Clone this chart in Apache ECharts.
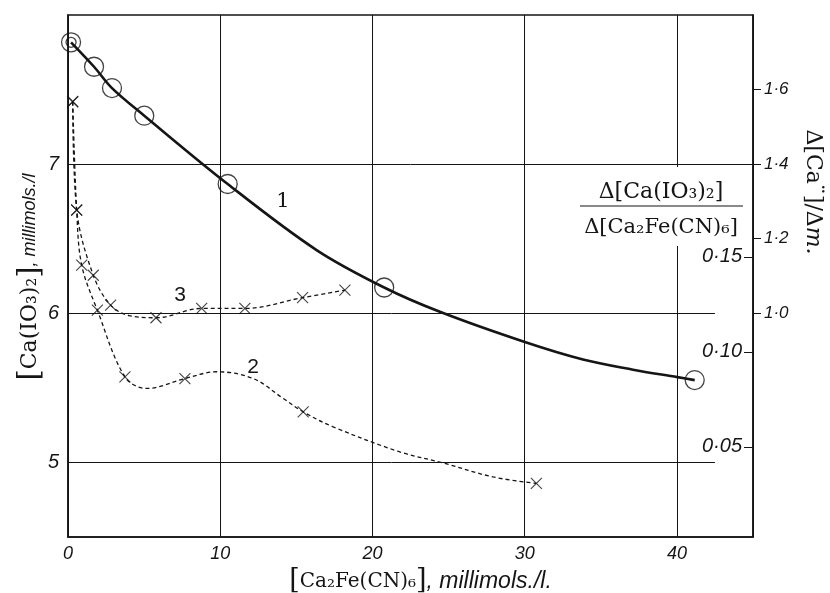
<!DOCTYPE html>
<html><head><meta charset="utf-8">
<script src="https://cdn.jsdelivr.net/npm/echarts@6/dist/echarts.min.js"></script>
<style>html,body{margin:0;padding:0;background:#fff}#c{width:830px;height:593px}</style>
</head><body><div id="c"></div>
<script>
// Tick labels
const xTicks = [0, 10, 20, 30, 40];
const yLeftTicks = [5, 6, 7];
const yOuterTicks = [1.0, 1.2, 1.4, 1.6];
const yInnerTicks = [0.05, 0.10, 0.15];

// Curve 1: [Ca(IO3)2] (circles) - left axis
const c1MarkX = [0.2, 1.71, 2.89, 5.01, 10.49, 20.77, 41.17];
const c1MarkY = [7.817, 7.653, 7.51, 7.325, 6.867, 6.173, 5.552];
// points read along the drawn curve 1
const c1TraceX = [16.33, 24.43, 29.96, 33.83, 37.12, 40.03];
const c1TraceY = [6.424, 6.010, 5.809, 5.690, 5.622, 5.572];

// Curve 2: Δ[Ca(IO3)2]/Δ[Ca2Fe(CN)6] (crosses) - inner right axis
const c2MarkX = [0.31, 0.57, 0.90, 1.93, 3.74, 7.68, 15.45, 30.77];
const c2MarkY = [0.2316, 0.1746, 0.1456, 0.1219, 0.0868, 0.0859, 0.0684, 0.0307];
const c2TraceX = [5.17, 9.76, 12.17, 14.14, 17.42, 21.8, 24.64, 27.93];
const c2TraceY = [0.0807, 0.0895, 0.0859, 0.0754, 0.0605, 0.0473, 0.0415, 0.0341];

// Curve 3: Δ[Ca··]/Δm (crosses) - outer right axis
const c3MarkX = [0.31, 0.57, 1.66, 2.80, 5.78, 8.78, 11.62, 15.41, 18.19];
const c3MarkY = [1.568, 1.277, 1.102, 1.022, 0.988, 1.013, 1.013, 1.042, 1.062];
const c3TraceX = [4.0];
const c3TraceY = [0.994];

const zip = (xs, ys) => xs.map((x, i) => [x, ys[i]]);
const merge = (ax, ay, bx, by) => zip(ax, ay).concat(zip(bx, by)).sort((p, q) => p[0] - q[0]);
const dot = (v, d) => Number(v).toFixed(d).replace('.', '\u00b7');

const ink = '#151515';
const crossPath = 'path://M0,0L10,10M10,0L0,10';
const serif = '"DejaVu Serif", "Liberation Serif", serif';
const sans = '"Liberation Sans", "DejaVu Sans", sans-serif';

const chart = echarts.init(document.getElementById('c'));

const tickFont = {fontFamily: sans, fontStyle: 'italic', color: ink};

chart.setOption({
  animation: false,
  backgroundColor: '#fff',
  grid: {left: 68, right: 77, top: 15, bottom: 56, show: true, borderColor: ink, borderWidth: 1.5, containLabel: false, outerBoundsMode: 'none'},
  xAxis: {
    type: 'value', min: 0, max: 45, interval: 10,
    axisLine: {show: true, lineStyle: {color: ink, width: 1.5}},
    axisTick: {show: false},
    axisLabel: Object.assign({customValues: xTicks, margin: 8, fontSize: 18}, tickFont),
    splitLine: {show: true, lineStyle: {color: ink, width: 1}},
    name: '{b|[}{s|Ca₂Fe(CN)₆}{b|]}{i|, millimols./l.}',
    nameLocation: 'middle', nameGap: 27,
    nameTextStyle: {
      padding: [0, 0, 0, 20],
      rich: {
        b: {fontFamily: serif, fontSize: 27, color: ink},
        s: {fontFamily: serif, fontSize: 20, color: ink},
        i: {fontFamily: sans, fontStyle: 'italic', fontSize: 23, color: ink}
      }
    }
  },
  yAxis: [
    {
      type: 'value', min: 4.5, max: 8, position: 'left',
      axisLine: {show: true, lineStyle: {color: ink, width: 1.5}},
      axisTick: {show: false},
      axisLabel: Object.assign({customValues: yLeftTicks, margin: 9, fontSize: 20}, tickFont),
      splitLine: {show: false}
    },
    {
      type: 'value', min: 0.4, max: 1.8, position: 'right',
      axisLine: {show: true, lineStyle: {color: ink, width: 1.5}},
      axisTick: {show: true, inside: false, length: 8, customValues: yOuterTicks, lineStyle: {color: ink, width: 1}},
      axisLabel: Object.assign({customValues: yOuterTicks, margin: 11, fontSize: 17, formatter: v => dot(v, 1)}, tickFont),
      splitLine: {show: false}
    },
    {
      type: 'value', min: 0.0025, max: 0.2773, position: 'right',
      axisLine: {show: false},
      axisTick: {show: true, inside: true, length: 9, customValues: yInnerTicks, lineStyle: {color: ink, width: 1}},
      axisLabel: Object.assign({inside: true, customValues: yInnerTicks, margin: 11, fontSize: 20, formatter: v => dot(v, 2)}, tickFont),
      splitLine: {show: false}
    }
  ],
  series: [
    {
      type: 'line', yAxisIndex: 0, smooth: 0.35, symbol: 'none',
      data: merge(c1MarkX, c1MarkY, c1TraceX, c1TraceY),
      lineStyle: {color: ink, width: 2.6}, z: 3,
      markLine: {
        silent: true, symbol: ['none', 'none'], label: {show: false},
        lineStyle: {color: ink, width: 1, type: 'solid'},
        data: yLeftTicks.map(v => [{coord: [0, v]}, {coord: [v === 7 ? 45 : 42.5, v]}])
      }
    },
    {
      type: 'scatter', yAxisIndex: 0, data: zip(c1MarkX, c1MarkY),
      symbol: 'circle', symbolSize: 19,
      itemStyle: {color: 'rgba(255,255,255,0)', borderColor: ink, borderWidth: 1.3}, z: 4
    },
    {
      type: 'scatter', yAxisIndex: 0, data: [[c1MarkX[0], c1MarkY[0]]],
      symbol: 'circle', symbolSize: 10,
      itemStyle: {color: 'rgba(255,255,255,0)', borderColor: ink, borderWidth: 1.3}, z: 4
    },
    {
      type: 'line', yAxisIndex: 2, smooth: 0.35, symbol: 'none',
      data: merge(c2MarkX, c2MarkY, c2TraceX, c2TraceY),
      lineStyle: {color: ink, width: 1.3, type: [4, 3]}, z: 3
    },
    {
      type: 'scatter', yAxisIndex: 2, data: zip(c2MarkX, c2MarkY),
      symbol: crossPath, symbolSize: 11,
      itemStyle: {color: 'none', borderColor: ink, borderWidth: 1.1}, z: 4
    },
    {
      type: 'line', yAxisIndex: 1, smooth: 0.35, symbol: 'none',
      data: merge(c3MarkX, c3MarkY, c3TraceX, c3TraceY),
      lineStyle: {color: ink, width: 1.3, type: [4, 3]}, z: 3
    },
    {
      type: 'scatter', yAxisIndex: 1, data: zip(c3MarkX, c3MarkY),
      symbol: crossPath, symbolSize: 11,
      itemStyle: {color: 'none', borderColor: ink, borderWidth: 1.1}, z: 4
    }
  ],
  graphic: [
    {type: 'text', x: 30, y: 277, z: 100, rotation: Math.PI / 2, style: {
      text: '{b|[}{s|Ca(IO₃)₂}{b|]}{i|, millimols./l}', align: 'center', verticalAlign: 'middle',
      rich: {
        b: {fontFamily: serif, fontSize: 29, fill: ink},
        s: {fontFamily: serif, fontSize: 22, fill: ink},
        i: {fontFamily: sans, fontStyle: 'italic', fontSize: 18, fill: ink}
      }
    }},
    {type: 'text', x: 283, y: 202, z: 100, style: {text: '1', fontFamily: serif, fontSize: 21, fill: ink, align: 'center', verticalAlign: 'middle'}},
    {type: 'text', x: 253, y: 367, z: 100, style: {text: '2', fontFamily: sans, fontSize: 21, fill: ink, align: 'center', verticalAlign: 'middle'}},
    {type: 'text', x: 180, y: 295, z: 100, style: {text: '3', fontFamily: sans, fontSize: 21, fill: ink, align: 'center', verticalAlign: 'middle'}},
    {type: 'rect', z: 90, shape: {x: 577, y: 167, width: 170, height: 79}, style: {fill: '#fff'}},
    {type: 'text', x: 661, y: 192, z: 100, style: {text: 'Δ[Ca(IO₃)₂]', fontFamily: serif, fontSize: 22, fill: ink, align: 'center', verticalAlign: 'middle'}},
    {type: 'line', z: 100, shape: {x1: 580, y1: 206, x2: 743, y2: 206}, style: {stroke: ink, lineWidth: 1.2}},
    {type: 'text', x: 661, y: 228, z: 100, style: {text: 'Δ[Ca₂Fe(CN)₆]', fontFamily: serif, fontSize: 21, fill: ink, align: 'center', verticalAlign: 'middle'}},
    {type: 'text', x: 813, y: 192, z: 100, rotation: -Math.PI / 2, style: {
      text: '{s|Δ[Ca¨]/Δ}{i|m.}', align: 'center', verticalAlign: 'middle',
      rich: {s: {fontFamily: serif, fontSize: 22, fill: ink}, i: {fontFamily: serif, fontStyle: 'italic', fontSize: 22, fill: ink}}
    }}
  ]
});
</script>
</body></html>
